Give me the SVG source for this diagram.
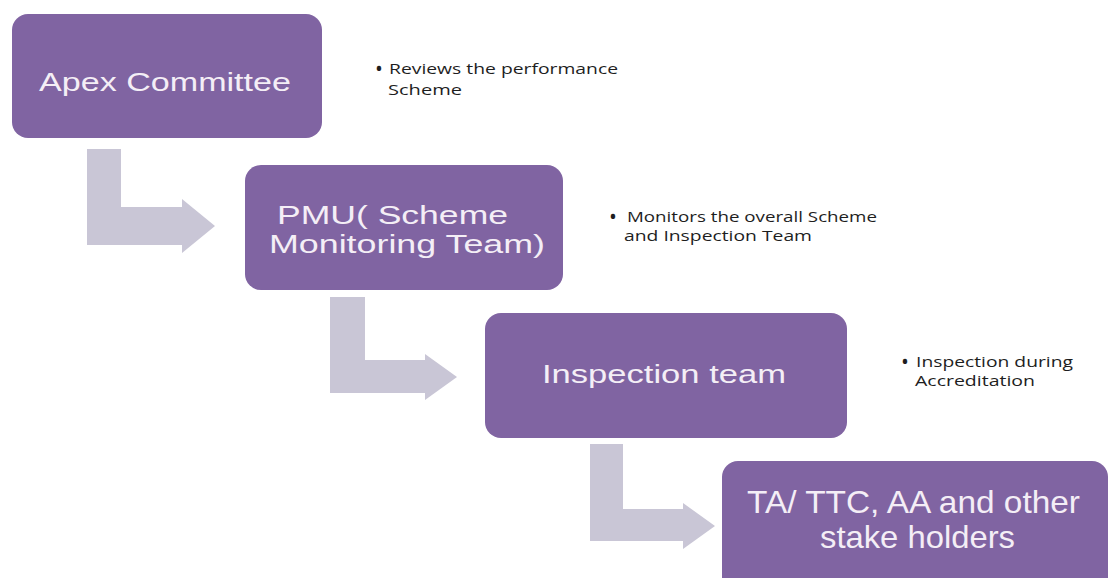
<svg xmlns="http://www.w3.org/2000/svg" width="1111" height="578" viewBox="0 0 1111 578">
  <style>
    .box { fill: #8064A2; }
    .btxt { font-family: "Liberation Sans", Arial, sans-serif; fill: #F4EEF6; }
    .arrow { fill: #C9C6D6; }
    .note { font-family: "Open Sans", "Liberation Sans", sans-serif; font-size: 15px; fill: #1E1E1E; }
    .bul { font-family: "Open Sans", "Liberation Sans", sans-serif; font-size: 21px; fill: #1E1E1E; }
  </style>
  <rect width="1111" height="578" fill="#FFFFFF"/>

  <g id="connectors">
    <path class="arrow" d="M87,149 H121 V207 H182 V199 L215,226 L182,253 V245 H87 Z"/>
    <path class="arrow" d="M330,297 H365 V360 H425 V354 L457,377 L425,400 V393 H330 Z"/>
    <path class="arrow" d="M590,444 H623 V509 H683 V503 L715,526 L683,549 V541 H590 Z"/>
  </g>

  <g id="apex-committee">
    <rect class="box" x="12" y="14" width="310" height="124" rx="16"/>
    <text class="btxt" x="39" y="91" font-size="26.5" textLength="252" lengthAdjust="spacingAndGlyphs">Apex Committee</text>
  </g>

  <g id="pmu">
    <rect class="box" x="245" y="165" width="318" height="125" rx="16"/>
    <text class="btxt" x="277" y="224" font-size="25.5" textLength="231" lengthAdjust="spacingAndGlyphs">PMU( Scheme</text>
    <text class="btxt" x="269" y="253" font-size="25.5" textLength="276" lengthAdjust="spacingAndGlyphs">Monitoring Team)</text>
  </g>

  <g id="inspection-team">
    <rect class="box" x="485" y="313" width="362" height="125" rx="16"/>
    <text class="btxt" x="542" y="383" font-size="26.5" textLength="244" lengthAdjust="spacingAndGlyphs">Inspection team</text>
  </g>

  <g id="stakeholders">
    <rect class="box" x="722" y="461" width="386" height="135" rx="16"/>
    <text class="btxt" x="747" y="513" font-size="30.5" textLength="333" lengthAdjust="spacingAndGlyphs">TA/ TTC, AA and other</text>
    <text class="btxt" x="820" y="548" font-size="30.5" textLength="195" lengthAdjust="spacingAndGlyphs">stake holders</text>
  </g>

  <g id="note-apex">
    <text class="bul" x="375" y="76">•</text>
    <text class="note" x="389" y="74" textLength="229" lengthAdjust="spacingAndGlyphs">Reviews the performance</text>
    <text class="note" x="388" y="95" textLength="74" lengthAdjust="spacingAndGlyphs">Scheme</text>
  </g>

  <g id="note-pmu">
    <text class="bul" x="609" y="224">•</text>
    <text class="note" x="627" y="222" textLength="250" lengthAdjust="spacingAndGlyphs">Monitors the overall Scheme</text>
    <text class="note" x="624" y="241" textLength="188" lengthAdjust="spacingAndGlyphs">and Inspection Team</text>
  </g>

  <g id="note-inspection">
    <text class="bul" x="901" y="369">•</text>
    <text class="note" x="916" y="367" textLength="157" lengthAdjust="spacingAndGlyphs">Inspection during</text>
    <text class="note" x="915" y="386" textLength="120" lengthAdjust="spacingAndGlyphs">Accreditation</text>
  </g>
</svg>
